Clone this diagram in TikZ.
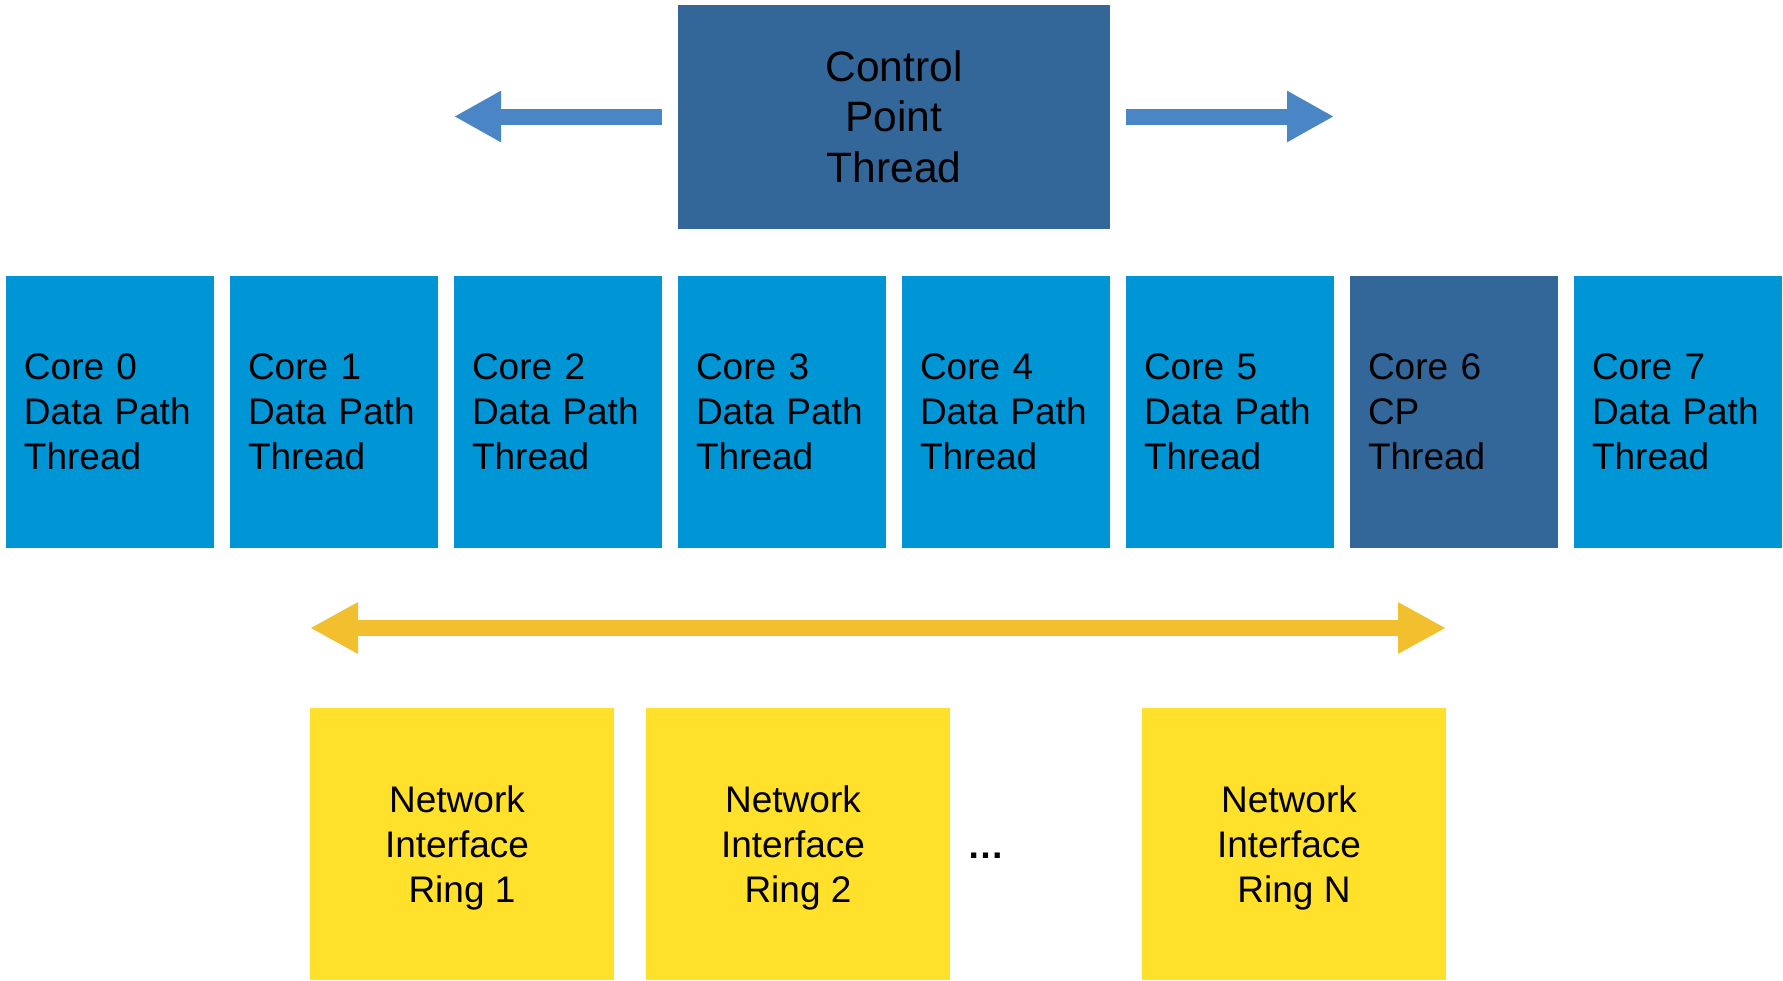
\documentclass[tikz,border=0pt]{standalone}
\usepackage{fontspec}
\setmainfont{Liberation Sans}
\usetikzlibrary{arrows.meta}
\definecolor{ctrlblue}{HTML}{336699}
\definecolor{coreblue}{HTML}{0096D6}
\definecolor{arrblue}{HTML}{4A86C6}
\definecolor{ringyellow}{HTML}{FFE12B}
\definecolor{arryellow}{HTML}{F2BF2E}
\begin{document}
\begin{tikzpicture}[x=0.5pt,y=-0.5pt,
  box/.style={rectangle, inner sep=0pt, outer sep=0pt, text=black},
  corebox/.style={box, anchor=north west, fill=coreblue, minimum width=104pt, minimum height=136pt,
    text width=86pt, inner xsep=9pt, align=left,
    font=\fontsize{18.5pt}{22.5pt}\selectfont},
  cpbox/.style={corebox, fill=ctrlblue},
  ringbox/.style={box, anchor=north west, fill=ringyellow, minimum width=152pt, minimum height=136pt,
    align=center, text depth=0pt, font=\fontsize{18.5pt}{22.5pt}\selectfont},
  ctrlbox/.style={box, fill=ctrlblue, minimum width=216pt, minimum height=112pt,
    align=center, text depth=0pt, font=\fontsize{21.25pt}{25.4pt}\selectfont},
  bluearrow/.style={draw=arrblue, line width=8pt, -{Triangle[length=23.5pt,width=24pt]}},
  yellowarrow/.style={draw=arryellow, line width=8pt,
    {Triangle[length=24pt,width=24pt]}-{Triangle[length=24pt,width=24pt]}},
  dotstext/.style={inner sep=0pt, anchor=base west, font=\fontsize{18.5pt}{22.5pt}\selectfont\bfseries}
]
\useasboundingbox (0,0) rectangle (1783,980);
\fill[white] (0,0) rectangle (1783,980);

% control point thread
\node[ctrlbox] (ctrl) at (894,116.5) {Control\\Point\\Thread};
\coordinate (lt) at (454,116.5);
\coordinate (rt) at (1334,116.5);
\draw[bluearrow] ([xshift=-8pt]ctrl.west) -- (lt);
\draw[bluearrow] ([xshift=8pt]ctrl.east) -- (rt);

% cores
\node[corebox] (core0) at (6,276) {Core 0\\Data Path\\Thread};
\node[corebox] (core1) at (230,276) {Core 1\\Data Path\\Thread};
\node[corebox] (core2) at (454,276) {Core 2\\Data Path\\Thread};
\node[corebox] (core3) at (678,276) {Core 3\\Data Path\\Thread};
\node[corebox] (core4) at (902,276) {Core 4\\Data Path\\Thread};
\node[corebox] (core5) at (1126,276) {Core 5\\Data Path\\Thread};
\node[cpbox]   (core6) at (1350,276) {Core 6\\CP\\Thread};
\node[corebox] (core7) at (1574,276) {Core 7\\Data Path\\Thread};

% network interface rings
\node[ringbox] (ring1) at (310,708) {Network\kern5pt\\Interface\kern5pt\\Ring 1};
\node[ringbox] (ring2) at (646,708) {Network\kern5pt\\Interface\kern5pt\\Ring 2};
\node[ringbox] (ringN) at (1142,708) {Network\kern5pt\\Interface\kern5pt\\Ring N};
\node[dotstext] (dots) at (967,858) {…};

% ring bus arrow
\coordinate (ya) at (310,628);
\coordinate (yb) at (1446,628);
\draw[yellowarrow] (ya) -- (yb);
\end{tikzpicture}
\end{document}
